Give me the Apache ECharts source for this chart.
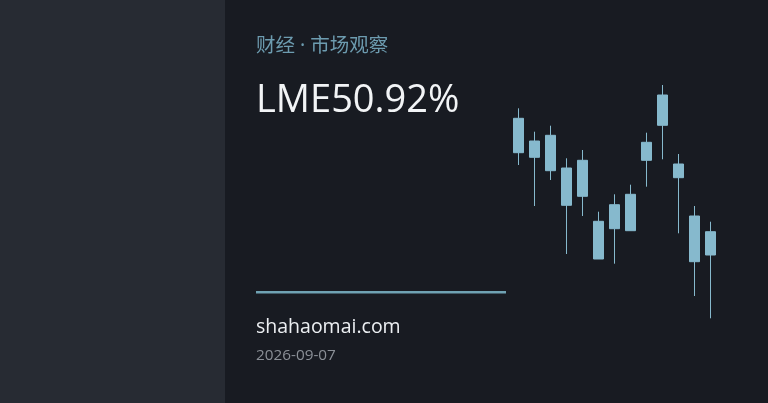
<!DOCTYPE html>
<html>
<head>
<meta charset="utf-8">
<script src="https://cdn.jsdelivr.net/npm/echarts@6/dist/echarts.min.js"></script>
<style>
  html, body { margin: 0; padding: 0; background: #181b22; }
  #main { width: 768px; height: 403px; }
</style>
</head>
<body>
<div id="main"></div>
<script>
// K线数据 [open, close, low, high]
var days = ['1', '2', '3', '4', '5', '6', '7', '8', '9', '10', '11', '12', '13'];
var opens  = [211.7, 189.0, 194.7, 162.0, 169.7, 108.7, 125.3, 135.7, 187.7, 235.0, 166.0, 114.0, 98.3];
var closes = [177.3, 172.7, 159.3, 124.7, 133.7, 71.0, 101.3, 99.3, 169.7, 204.7, 152.3, 68.3, 75.0];
var lows   = [165.0, 124.0, 150.0, 76.0, 114.0, 71.0, 66.3, 99.3, 143.3, 170.7, 96.7, 34.0, 11.7];
var highs  = [221.7, 198.3, 204.3, 171.7, 180.0, 118.3, 135.7, 145.3, 197.3, 245.0, 176.0, 124.0, 108.3];

var title = 'LME50.92%';
var kicker = '财经 · 市场观察';
var site = 'shahaomai.com';
var dateText = '2026-09-07';

document.addEventListener('DOMContentLoaded', function () {
    var myChart = echarts.init(document.getElementById('main'));
    var kdata = days.map(function (d, i) {
        return [opens[i], closes[i], lows[i], highs[i]];
    });

    var option = {
        backgroundColor: '#181b22',
        animation: false,
        grid: { left: 510.7, right: 49.3, top: 80, bottom: 73 },
        xAxis: {
            type: 'category',
            data: days,
            show: false
        },
        yAxis: {
            type: 'value',
            min: 0,
            max: 250,
            show: false
        },
        graphic: [
            { type: 'rect', shape: { x: 0, y: 0, width: 225, height: 403 }, style: { fill: '#272b33' }, z: -10 },
            { type: 'text', left: 256, top: 37, style: { text: kicker, fill: '#6d9cb0', font: '19.5px "Noto Sans", "Noto Sans CJK SC", sans-serif' } },
            { type: 'text', left: 256, top: 82, style: { text: title, fill: '#f2f4f6', font: '38px "Open Sans", "Noto Sans", sans-serif' } },
            { type: 'rect', shape: { x: 256, y: 291, width: 250, height: 2.5 }, style: { fill: '#6fa2b3' } },
            { type: 'text', left: 256, top: 317, style: { text: site, fill: '#eceff2', font: '19.5px "Open Sans", "Noto Sans", sans-serif' } },
            { type: 'text', left: 256, top: 348, style: { text: dateText, fill: '#8b9097', font: '15.3px "Open Sans", "Noto Sans", sans-serif' } }
        ],
        series: [
            {
                type: 'candlestick',
                data: kdata,
                barWidth: 10,
                itemStyle: {
                    color: '#86b9cd',
                    color0: '#86b9cd',
                    borderColor: '#86b9cd',
                    borderColor0: '#86b9cd',
                    borderWidth: 1
                }
            }
        ]
    };

    option && myChart.setOption(option);
});
</script>
</body>
</html>
